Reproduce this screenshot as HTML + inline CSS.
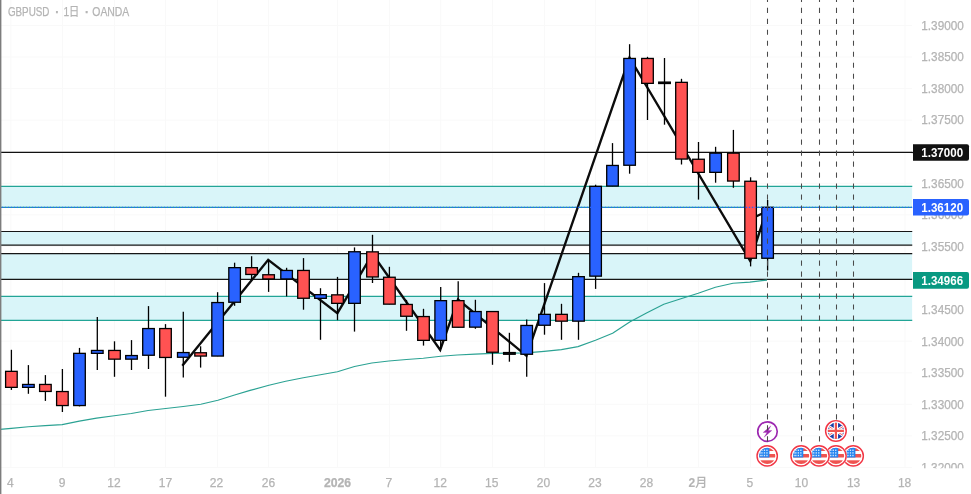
<!DOCTYPE html>
<html lang="ja"><head><meta charset="utf-8"><title>GBPUSD</title>
<style>html,body{margin:0;padding:0;background:#fff;}body{width:971px;height:494px;overflow:hidden;position:relative;font-family:"Liberation Sans","Noto Sans CJK JP",sans-serif;}</style>
</head><body>
<svg width="971" height="494" viewBox="0 0 971 494" style="position:absolute;left:0;top:0">
<defs>
<clipPath id="cc"><rect x="0" y="0" width="912.5" height="468"/></clipPath>
<clipPath id="fc"><circle cx="0" cy="0" r="8.1"/></clipPath>
<g id="us">
<circle cx="0" cy="0" r="11.1" fill="#fff"/>
<circle cx="0" cy="0" r="10.15" fill="#fff" stroke="#f23645" stroke-width="1.45"/>
<g clip-path="url(#fc)">
<rect x="-9" y="-9" width="18" height="18" fill="#fff"/>
<rect x="-9" y="-7.7" width="18" height="2.8" fill="#ef5350"/>
<rect x="-9" y="-1.9" width="18" height="3.5" fill="#ef5350"/>
<rect x="-9" y="4.4" width="18" height="4.0" fill="#ef5350"/>
<rect x="-9" y="-9" width="11.2" height="10.6" fill="#2485f0"/>
<g fill="#fff" opacity="0.8">
<rect x="-5.9" y="-6.3" width="1.3" height="1.4"/><rect x="-3.4" y="-6.3" width="1.3" height="1.4"/><rect x="-0.9" y="-6.3" width="1.3" height="1.4"/>
<rect x="-7.4" y="-3.7" width="1.0" height="1.4"/><rect x="-5.9" y="-3.7" width="1.3" height="1.4"/><rect x="-3.4" y="-3.7" width="1.3" height="1.4"/><rect x="-0.9" y="-3.7" width="1.3" height="1.4"/>
<rect x="-7.4" y="-1.1" width="1.0" height="1.4"/><rect x="-5.9" y="-1.1" width="1.3" height="1.4"/><rect x="-3.4" y="-1.1" width="1.3" height="1.4"/><rect x="-0.9" y="-1.1" width="1.3" height="1.4"/>
</g>
</g>
</g>
<g id="uk">
<circle cx="0" cy="0" r="11.1" fill="#fff"/>
<circle cx="0" cy="0" r="10.3" fill="#fff" stroke="#f23645" stroke-width="1.45"/>
<g clip-path="url(#fc)">
<rect x="-9" y="-9" width="18" height="18" fill="#1a3ea8"/>
<path d="M-10,-6.2 L10,6.2 M10,-6.2 L-10,6.2" stroke="#fff" stroke-width="2.7"/>
<path d="M-10,-6.2 L-3.2,-1.98 M10,6.2 L3.2,1.98 M10,-6.2 L3.2,-1.98 M-10,6.2 L-3.2,1.98" stroke="#ef5350" stroke-width="0.9"/>
<path d="M0,-9 V9 M-9,0 H9" stroke="#fff" stroke-width="4.3"/>
<path d="M0,-9 V9 M-9,0 H9" stroke="#ef5350" stroke-width="2.2"/>
</g>
</g>
</defs>
<rect width="971" height="494" fill="#fff"/>
<g clip-path="url(#cc)">
<line x1="10.9" y1="0" x2="10.9" y2="468" stroke="#f9f9f9" stroke-width="1"/>
<line x1="62.4" y1="0" x2="62.4" y2="468" stroke="#f9f9f9" stroke-width="1"/>
<line x1="114.5" y1="0" x2="114.5" y2="468" stroke="#f9f9f9" stroke-width="1"/>
<line x1="165.5" y1="0" x2="165.5" y2="468" stroke="#f9f9f9" stroke-width="1"/>
<line x1="217.6" y1="0" x2="217.6" y2="468" stroke="#f9f9f9" stroke-width="1"/>
<line x1="268.6" y1="0" x2="268.6" y2="468" stroke="#f9f9f9" stroke-width="1"/>
<line x1="337.5" y1="0" x2="337.5" y2="468" stroke="#f9f9f9" stroke-width="1"/>
<line x1="389.4" y1="0" x2="389.4" y2="468" stroke="#f9f9f9" stroke-width="1"/>
<line x1="440.7" y1="0" x2="440.7" y2="468" stroke="#f9f9f9" stroke-width="1"/>
<line x1="492.5" y1="0" x2="492.5" y2="468" stroke="#f9f9f9" stroke-width="1"/>
<line x1="544.5" y1="0" x2="544.5" y2="468" stroke="#f9f9f9" stroke-width="1"/>
<line x1="595.6" y1="0" x2="595.6" y2="468" stroke="#f9f9f9" stroke-width="1"/>
<line x1="647.5" y1="0" x2="647.5" y2="468" stroke="#f9f9f9" stroke-width="1"/>
<line x1="698.5" y1="0" x2="698.5" y2="468" stroke="#f9f9f9" stroke-width="1"/>
<line x1="750.6" y1="0" x2="750.6" y2="468" stroke="#f9f9f9" stroke-width="1"/>
<line x1="801.5" y1="0" x2="801.5" y2="468" stroke="#f9f9f9" stroke-width="1"/>
<line x1="853.5" y1="0" x2="853.5" y2="468" stroke="#f9f9f9" stroke-width="1"/>
<line x1="905" y1="0" x2="905" y2="468" stroke="#f9f9f9" stroke-width="1"/>
<line x1="0" y1="25.4" x2="912.5" y2="25.4" stroke="#f9f9f9" stroke-width="1"/>
<line x1="0" y1="57.0" x2="912.5" y2="57.0" stroke="#f9f9f9" stroke-width="1"/>
<line x1="0" y1="88.5" x2="912.5" y2="88.5" stroke="#f9f9f9" stroke-width="1"/>
<line x1="0" y1="120.1" x2="912.5" y2="120.1" stroke="#f9f9f9" stroke-width="1"/>
<line x1="0" y1="151.7" x2="912.5" y2="151.7" stroke="#f9f9f9" stroke-width="1"/>
<line x1="0" y1="183.3" x2="912.5" y2="183.3" stroke="#f9f9f9" stroke-width="1"/>
<line x1="0" y1="214.9" x2="912.5" y2="214.9" stroke="#f9f9f9" stroke-width="1"/>
<line x1="0" y1="246.4" x2="912.5" y2="246.4" stroke="#f9f9f9" stroke-width="1"/>
<line x1="0" y1="278.0" x2="912.5" y2="278.0" stroke="#f9f9f9" stroke-width="1"/>
<line x1="0" y1="309.6" x2="912.5" y2="309.6" stroke="#f9f9f9" stroke-width="1"/>
<line x1="0" y1="341.2" x2="912.5" y2="341.2" stroke="#f9f9f9" stroke-width="1"/>
<line x1="0" y1="372.8" x2="912.5" y2="372.8" stroke="#f9f9f9" stroke-width="1"/>
<line x1="0" y1="404.3" x2="912.5" y2="404.3" stroke="#f9f9f9" stroke-width="1"/>
<line x1="0" y1="435.9" x2="912.5" y2="435.9" stroke="#f9f9f9" stroke-width="1"/>
<line x1="0" y1="467.5" x2="912.5" y2="467.5" stroke="#f9f9f9" stroke-width="1"/>
<rect x="0" y="186.3" width="912.5" height="21.0" fill="#d9f5f9"/>
<rect x="0" y="231.5" width="912.5" height="13.7" fill="#d9f5f9"/>
<rect x="0" y="253.6" width="912.5" height="25.6" fill="#d9f5f9"/>
<rect x="0" y="296.4" width="912.5" height="24.0" fill="#d9f5f9"/>
<line x1="0" y1="186.4" x2="913.5" y2="186.4" stroke="#22a596" stroke-width="1.3" />
<line x1="0" y1="207.4" x2="913.5" y2="207.4" stroke="#22a596" stroke-width="1.25" />
<line x1="0" y1="296.4" x2="913.5" y2="296.4" stroke="#22a596" stroke-width="1.3" />
<line x1="0" y1="320.4" x2="913.5" y2="320.4" stroke="#22a596" stroke-width="1.3" />
<line x1="0" y1="231.5" x2="913.5" y2="231.5" stroke="#161616" stroke-width="1.2" />
<line x1="0" y1="245.2" x2="913.5" y2="245.2" stroke="#161616" stroke-width="1.2" />
<line x1="0" y1="253.6" x2="913.5" y2="253.6" stroke="#161616" stroke-width="1.2" />
<line x1="0" y1="279.3" x2="913.5" y2="279.3" stroke="#161616" stroke-width="1.2" />
<polyline fill="none" stroke="#0c0c0c" stroke-width="2.35" stroke-linejoin="miter" points="182.3,365.8 268.2,259.8 337.4,313.2 372.5,254 440.2,350 458,299.5 526.5,355.8 629.5,57.5 750.2,261 767.6,207"/>
<line x1="750.5" y1="219" x2="767.6" y2="211" stroke="#0c0c0c" stroke-width="2.2"/>
<line x1="0" y1="152.4" x2="913.5" y2="152.4" stroke="#111" stroke-width="1.3" />
<polyline fill="none" stroke="#2ba293" stroke-width="1.15" stroke-linejoin="round" points="0,429.4 11.3,428.4 28.4,426.8 45.2,425.6 62.2,424.6 79.3,421.1 96.6,418.1 114.2,415.8 131.3,413.5 148.1,410.5 165.7,408.5 183.2,406.5 200.8,404.3 217.9,400.2 234.6,395 250.1,390.4 268.9,385.3 285.7,381.3 303.3,377.8 320.4,374.8 337.4,371.8 354.5,366.5 371.8,363 388.9,361 406.5,359.5 423.3,358.2 440.8,356.2 457.2,355 475.1,354.1 492.6,353.4 509.4,353.1 526.5,352.9 544.1,351.4 561.4,349.6 578,346.6 595.5,340.3 612.6,333.3 629.7,322 647,312.7 663.8,304.2 680.9,298.7 698.2,293.2 715.4,287.2 733,283.3 749.8,282.1 767,280.1"/>
<line x1="11.4" y1="349.8" x2="11.4" y2="389.9" stroke="#000" stroke-width="1.3"/>
<rect x="5.60" y="371.35" width="11.60" height="16.00" fill="#ff5252" stroke="#000" stroke-width="1.3"/>
<line x1="28.4" y1="365.1" x2="28.4" y2="393.8" stroke="#000" stroke-width="1.3"/>
<rect x="22.60" y="384.45" width="11.60" height="2.90" fill="#2962ff" stroke="#000" stroke-width="1.3"/>
<line x1="45.4" y1="375.1" x2="45.4" y2="400.9" stroke="#000" stroke-width="1.3"/>
<rect x="39.60" y="384.45" width="11.60" height="7.00" fill="#ff5252" stroke="#000" stroke-width="1.3"/>
<line x1="62.4" y1="369" x2="62.4" y2="412" stroke="#000" stroke-width="1.3"/>
<rect x="56.60" y="391.55" width="11.60" height="14.00" fill="#ff5252" stroke="#000" stroke-width="1.3"/>
<line x1="79.5" y1="347.9" x2="79.5" y2="406.4" stroke="#000" stroke-width="1.3"/>
<rect x="73.70" y="353.35" width="11.60" height="52.20" fill="#2962ff" stroke="#000" stroke-width="1.3"/>
<line x1="97.3" y1="317" x2="97.3" y2="370" stroke="#000" stroke-width="1.3"/>
<rect x="91.50" y="350.45" width="11.60" height="2.90" fill="#2962ff" stroke="#000" stroke-width="1.3"/>
<line x1="114.5" y1="341.3" x2="114.5" y2="376.8" stroke="#000" stroke-width="1.3"/>
<rect x="108.70" y="350.45" width="11.60" height="8.70" fill="#ff5252" stroke="#000" stroke-width="1.3"/>
<line x1="131.5" y1="340.1" x2="131.5" y2="370" stroke="#000" stroke-width="1.3"/>
<rect x="125.70" y="355.55" width="11.60" height="3.60" fill="#2962ff" stroke="#000" stroke-width="1.3"/>
<line x1="148.5" y1="306.1" x2="148.5" y2="369" stroke="#000" stroke-width="1.3"/>
<rect x="142.70" y="328.55" width="11.60" height="26.70" fill="#2962ff" stroke="#000" stroke-width="1.3"/>
<line x1="165.5" y1="324.1" x2="165.5" y2="396.7" stroke="#000" stroke-width="1.3"/>
<rect x="159.70" y="328.55" width="11.60" height="28.90" fill="#ff5252" stroke="#000" stroke-width="1.3"/>
<line x1="183.3" y1="311.8" x2="183.3" y2="377.6" stroke="#000" stroke-width="1.3"/>
<rect x="177.50" y="352.55" width="11.60" height="4.70" fill="#2962ff" stroke="#000" stroke-width="1.3"/>
<line x1="200.6" y1="346.3" x2="200.6" y2="367.6" stroke="#000" stroke-width="1.3"/>
<rect x="194.80" y="352.75" width="11.60" height="3.30" fill="#ff5252" stroke="#000" stroke-width="1.3"/>
<line x1="217.6" y1="292.2" x2="217.6" y2="356.2" stroke="#000" stroke-width="1.3"/>
<rect x="211.80" y="302.55" width="11.60" height="53.50" fill="#2962ff" stroke="#000" stroke-width="1.3"/>
<line x1="234.6" y1="262.7" x2="234.6" y2="305.8" stroke="#000" stroke-width="1.3"/>
<rect x="228.80" y="267.65" width="11.60" height="34.60" fill="#2962ff" stroke="#000" stroke-width="1.3"/>
<line x1="251.6" y1="256.2" x2="251.6" y2="279.7" stroke="#000" stroke-width="1.3"/>
<rect x="245.80" y="267.65" width="11.60" height="6.80" fill="#ff5252" stroke="#000" stroke-width="1.3"/>
<line x1="268.6" y1="259.8" x2="268.6" y2="291.9" stroke="#000" stroke-width="1.3"/>
<rect x="262.80" y="274.75" width="11.60" height="4.20" fill="#ff5252" stroke="#000" stroke-width="1.3"/>
<line x1="286.6" y1="267.8" x2="286.6" y2="296.4" stroke="#000" stroke-width="1.3"/>
<rect x="280.80" y="270.45" width="11.60" height="8.50" fill="#2962ff" stroke="#000" stroke-width="1.3"/>
<line x1="303.5" y1="258.1" x2="303.5" y2="309.7" stroke="#000" stroke-width="1.3"/>
<rect x="297.70" y="270.45" width="11.60" height="27.80" fill="#ff5252" stroke="#000" stroke-width="1.3"/>
<line x1="320.5" y1="288.2" x2="320.5" y2="339.8" stroke="#000" stroke-width="1.3"/>
<rect x="314.70" y="294.65" width="11.60" height="3.70" fill="#2962ff" stroke="#000" stroke-width="1.3"/>
<line x1="337.5" y1="276.9" x2="337.5" y2="320.2" stroke="#000" stroke-width="1.3"/>
<rect x="331.70" y="294.85" width="11.60" height="8.50" fill="#ff5252" stroke="#000" stroke-width="1.3"/>
<line x1="354.5" y1="247.4" x2="354.5" y2="331.6" stroke="#000" stroke-width="1.3"/>
<rect x="348.70" y="251.75" width="11.60" height="51.60" fill="#2962ff" stroke="#000" stroke-width="1.3"/>
<line x1="372.5" y1="234.8" x2="372.5" y2="283" stroke="#000" stroke-width="1.3"/>
<rect x="366.70" y="251.85" width="11.60" height="25.10" fill="#ff5252" stroke="#000" stroke-width="1.3"/>
<line x1="389.4" y1="266.8" x2="389.4" y2="304.3" stroke="#000" stroke-width="1.3"/>
<rect x="383.60" y="277.25" width="11.60" height="26.90" fill="#ff5252" stroke="#000" stroke-width="1.3"/>
<line x1="406.5" y1="299.9" x2="406.5" y2="330.8" stroke="#000" stroke-width="1.3"/>
<rect x="400.70" y="304.45" width="11.60" height="11.80" fill="#ff5252" stroke="#000" stroke-width="1.3"/>
<line x1="423.5" y1="308.8" x2="423.5" y2="345.6" stroke="#000" stroke-width="1.3"/>
<rect x="417.70" y="316.55" width="11.60" height="23.80" fill="#ff5252" stroke="#000" stroke-width="1.3"/>
<line x1="440.7" y1="287.1" x2="440.7" y2="349.1" stroke="#000" stroke-width="1.3"/>
<rect x="434.90" y="300.65" width="11.60" height="39.70" fill="#2962ff" stroke="#000" stroke-width="1.3"/>
<line x1="458.2" y1="281.3" x2="458.2" y2="327.4" stroke="#000" stroke-width="1.3"/>
<rect x="452.40" y="300.65" width="11.60" height="26.60" fill="#ff5252" stroke="#000" stroke-width="1.3"/>
<line x1="475.4" y1="299.8" x2="475.4" y2="328.8" stroke="#000" stroke-width="1.3"/>
<rect x="469.60" y="311.55" width="11.60" height="15.60" fill="#2962ff" stroke="#000" stroke-width="1.3"/>
<line x1="492.5" y1="311.4" x2="492.5" y2="364.8" stroke="#000" stroke-width="1.3"/>
<rect x="486.70" y="311.55" width="11.60" height="40.70" fill="#ff5252" stroke="#000" stroke-width="1.3"/>
<line x1="509.4" y1="332.8" x2="509.4" y2="361.7" stroke="#000" stroke-width="1.3"/>
<rect x="503.60" y="352.55" width="11.60" height="1.70" fill="#10151c" stroke="#000" stroke-width="1.3"/>
<line x1="526.7" y1="319.4" x2="526.7" y2="376.7" stroke="#000" stroke-width="1.3"/>
<rect x="520.90" y="325.45" width="11.60" height="28.80" fill="#2962ff" stroke="#000" stroke-width="1.3"/>
<line x1="544.5" y1="283.1" x2="544.5" y2="334.7" stroke="#000" stroke-width="1.3"/>
<rect x="538.70" y="314.35" width="11.60" height="10.90" fill="#2962ff" stroke="#000" stroke-width="1.3"/>
<line x1="561.5" y1="303.8" x2="561.5" y2="339.8" stroke="#000" stroke-width="1.3"/>
<rect x="555.70" y="314.35" width="11.60" height="6.80" fill="#ff5252" stroke="#000" stroke-width="1.3"/>
<line x1="578.5" y1="272.8" x2="578.5" y2="339.8" stroke="#000" stroke-width="1.3"/>
<rect x="572.70" y="276.65" width="11.60" height="44.50" fill="#2962ff" stroke="#000" stroke-width="1.3"/>
<line x1="595.6" y1="184.7" x2="595.6" y2="288.9" stroke="#000" stroke-width="1.3"/>
<rect x="589.80" y="186.35" width="11.60" height="89.80" fill="#2962ff" stroke="#000" stroke-width="1.3"/>
<line x1="612.5" y1="143.1" x2="612.5" y2="186.2" stroke="#000" stroke-width="1.3"/>
<rect x="606.70" y="165.45" width="11.60" height="20.60" fill="#2962ff" stroke="#000" stroke-width="1.3"/>
<line x1="629.6" y1="44.2" x2="629.6" y2="173.7" stroke="#000" stroke-width="1.3"/>
<rect x="623.80" y="58.45" width="11.60" height="106.80" fill="#2962ff" stroke="#000" stroke-width="1.3"/>
<line x1="647.5" y1="56.8" x2="647.5" y2="120" stroke="#000" stroke-width="1.3"/>
<rect x="641.70" y="58.45" width="11.60" height="24.90" fill="#ff5252" stroke="#000" stroke-width="1.3"/>
<line x1="664.5" y1="58" x2="664.5" y2="124.7" stroke="#000" stroke-width="1.3"/>
<rect x="658.70" y="82.10" width="11.60" height="1.40" fill="#10151c" stroke="#000" stroke-width="1.3"/>
<line x1="681.5" y1="78.8" x2="681.5" y2="164.5" stroke="#000" stroke-width="1.3"/>
<rect x="675.70" y="82.35" width="11.60" height="76.70" fill="#ff5252" stroke="#000" stroke-width="1.3"/>
<line x1="698.5" y1="142" x2="698.5" y2="199.6" stroke="#000" stroke-width="1.3"/>
<rect x="692.70" y="159.25" width="11.60" height="13.10" fill="#ff5252" stroke="#000" stroke-width="1.3"/>
<line x1="715.6" y1="146.8" x2="715.6" y2="182.7" stroke="#000" stroke-width="1.3"/>
<rect x="709.80" y="153.15" width="11.60" height="19.20" fill="#2962ff" stroke="#000" stroke-width="1.3"/>
<line x1="733.4" y1="129.9" x2="733.4" y2="187.8" stroke="#000" stroke-width="1.3"/>
<rect x="727.60" y="153.15" width="11.60" height="27.90" fill="#ff5252" stroke="#000" stroke-width="1.3"/>
<line x1="750.6" y1="177.3" x2="750.6" y2="266.4" stroke="#000" stroke-width="1.3"/>
<rect x="744.80" y="181.25" width="11.60" height="77.00" fill="#ff5252" stroke="#000" stroke-width="1.3"/>
<line x1="767.6" y1="200" x2="767.6" y2="270.5" stroke="#000" stroke-width="1.3"/>
<rect x="761.80" y="207.35" width="11.60" height="50.90" fill="#2962ff" stroke="#000" stroke-width="1.3"/>
<line x1="0" y1="207.4" x2="913.5" y2="207.4" stroke="#2962ff" stroke-width="1.2" stroke-dasharray="1.4 1.6" stroke-dashoffset="1.2"/>
</g>
<g transform="translate(767.5,431.6)"><circle r="9.75" fill="#fff" stroke="#9c27b0" stroke-width="1.65"/><path d="M3.4,-5.8 L-4.4,0.9 L-0.5,0.9 L-3.4,5.6 L4.4,-1.1 L0.8,-1.1 Z" fill="#9c27b0" stroke="#9c27b0" stroke-width="0.25" stroke-linejoin="round"/></g>
<use href="#uk" x="835.9" y="430.9"/>
<line x1="767.5" y1="-3.3" x2="767.5" y2="442" stroke="#4a4a4a" stroke-width="1.05" stroke-dasharray="5.2 5.79"/>
<line x1="801.5" y1="-3.3" x2="801.5" y2="442" stroke="#4a4a4a" stroke-width="1.05" stroke-dasharray="5.2 5.79"/>
<line x1="819.5" y1="-3.3" x2="819.5" y2="442" stroke="#4a4a4a" stroke-width="1.05" stroke-dasharray="5.2 5.79"/>
<line x1="836.5" y1="-3.3" x2="836.5" y2="420" stroke="#4a4a4a" stroke-width="1.05" stroke-dasharray="5.2 5.79"/>
<line x1="853.5" y1="-3.3" x2="853.5" y2="442" stroke="#4a4a4a" stroke-width="1.05" stroke-dasharray="5.2 5.79"/>
<use href="#us" x="853.2" y="455.9"/>
<use href="#us" x="836.0" y="455.9"/>
<use href="#us" x="819.0" y="455.9"/>
<use href="#us" x="801.1" y="455.9"/>
<use href="#us" x="767.2" y="455.9"/>
<rect x="0" y="0" width="1.4" height="494" fill="#7d7d7d"/>
<rect x="912.5" y="0" width="58.5" height="494" fill="#fff"/>
<g font-family="Liberation Sans, Arial, sans-serif" font-size="12" fill="#b4b4b4" stroke="#b4b4b4" stroke-width="0.25" clip-path="url(#pc)">
<clipPath id="pc"><rect x="900" y="0" width="71" height="468.2"/></clipPath>
<text x="921.3" y="29.7" textLength="42.6" lengthAdjust="spacingAndGlyphs">1.39000</text>
<text x="921.3" y="61.3" textLength="42.6" lengthAdjust="spacingAndGlyphs">1.38500</text>
<text x="921.3" y="92.8" textLength="42.6" lengthAdjust="spacingAndGlyphs">1.38000</text>
<text x="921.3" y="124.4" textLength="42.6" lengthAdjust="spacingAndGlyphs">1.37500</text>
<text x="921.3" y="156.0" textLength="42.6" lengthAdjust="spacingAndGlyphs">1.37000</text>
<text x="921.3" y="187.6" textLength="42.6" lengthAdjust="spacingAndGlyphs">1.36500</text>
<text x="921.3" y="219.2" textLength="42.6" lengthAdjust="spacingAndGlyphs">1.36000</text>
<text x="921.3" y="250.7" textLength="42.6" lengthAdjust="spacingAndGlyphs">1.35500</text>
<text x="921.3" y="282.3" textLength="42.6" lengthAdjust="spacingAndGlyphs">1.35000</text>
<text x="921.3" y="313.9" textLength="42.6" lengthAdjust="spacingAndGlyphs">1.34500</text>
<text x="921.3" y="345.5" textLength="42.6" lengthAdjust="spacingAndGlyphs">1.34000</text>
<text x="921.3" y="377.1" textLength="42.6" lengthAdjust="spacingAndGlyphs">1.33500</text>
<text x="921.3" y="408.6" textLength="42.6" lengthAdjust="spacingAndGlyphs">1.33000</text>
<text x="921.3" y="440.2" textLength="42.6" lengthAdjust="spacingAndGlyphs">1.32500</text>
<text x="921.3" y="471.8" textLength="42.6" lengthAdjust="spacingAndGlyphs">1.32000</text>
</g>
<line x1="911.5" y1="152.5" x2="914" y2="152.5" stroke="#111" stroke-width="1.2"/>
<path d="M913,144.2 h54 a2,2 0 0 1 2,2 v12.6 a2,2 0 0 1 -2,2 h-54 z" fill="#111"/>
<text x="921.3" y="156.9" font-family="Liberation Sans, Arial, sans-serif" font-size="12" font-weight="bold" fill="#fff" textLength="41.8" lengthAdjust="spacingAndGlyphs">1.37000</text>
<path d="M913,199.0 h54 a2,2 0 0 1 2,2 v12.6 a2,2 0 0 1 -2,2 h-54 z" fill="#2962ff"/>
<text x="921.3" y="211.7" font-family="Liberation Sans, Arial, sans-serif" font-size="12" font-weight="bold" fill="#fff" textLength="41.8" lengthAdjust="spacingAndGlyphs">1.36120</text>
<path d="M913,272.09999999999997 h54 a2,2 0 0 1 2,2 v12.6 a2,2 0 0 1 -2,2 h-54 z" fill="#089981"/>
<text x="921.3" y="284.8" font-family="Liberation Sans, Arial, sans-serif" font-size="12" font-weight="bold" fill="#fff" textLength="41.8" lengthAdjust="spacingAndGlyphs">1.34966</text>
<g font-family="Liberation Sans, Arial, sans-serif" font-size="12" fill="#b4b4b4" stroke="#b4b4b4" stroke-width="0.25" text-anchor="middle">
<text x="10.4" y="487">4</text>
<text x="62.1" y="487">9</text>
<text x="114" y="487">12</text>
<text x="165.5" y="487">17</text>
<text x="216.5" y="487">22</text>
<text x="268.5" y="487">26</text>
<text x="388.8" y="487">7</text>
<text x="440.3" y="487">12</text>
<text x="491.8" y="487">15</text>
<text x="543.5" y="487">20</text>
<text x="595" y="487">23</text>
<text x="646.5" y="487">28</text>
<text x="749.9" y="487">5</text>
<text x="801.5" y="487">10</text>
<text x="853.6" y="487">13</text>
<text x="904.6" y="487">18</text>
<text x="337.5" y="487" font-weight="bold" textLength="27.2" lengthAdjust="spacingAndGlyphs">2026</text>
<text x="697.9" y="487" font-family="Liberation Sans, Noto Sans CJK JP, sans-serif" stroke-width="0.1"><tspan font-weight="bold">2</tspan><tspan font-weight="500">月</tspan></text>
</g>
<text y="16.2" font-family="Liberation Sans, Noto Sans CJK JP, sans-serif" font-size="12" fill="#b4b4b4" stroke="#b4b4b4" stroke-width="0.25"><tspan x="7.9" textLength="41.6" lengthAdjust="spacingAndGlyphs">GBPUSD</tspan><tspan x="55.2" font-weight="bold">·</tspan><tspan x="63.4" textLength="15.9" lengthAdjust="spacingAndGlyphs">1日</tspan><tspan x="84.9" font-weight="bold">·</tspan><tspan x="92.3" textLength="37" lengthAdjust="spacingAndGlyphs">OANDA</tspan></text>
</svg>
</body></html>
